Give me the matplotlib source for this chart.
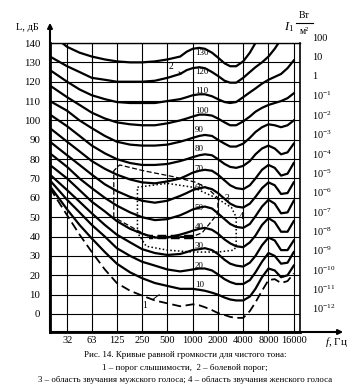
import matplotlib
matplotlib.use("Agg")
import matplotlib.pyplot as plt
from matplotlib.ticker import NullLocator

plt.rcParams['font.family'] = ['Liberation Serif', 'DejaVu Serif']
plt.rcParams['mathtext.fontset'] = 'custom'
plt.rcParams['mathtext.rm'] = 'Liberation Serif'
plt.rcParams['mathtext.it'] = 'Liberation Serif:italic'
plt.rcParams['mathtext.bf'] = 'Liberation Serif:bold'

# --- данные (частота, Гц / уровень, дБ) ---
freqs = [20, 32, 45, 63, 90, 125, 180, 250, 355, 500,
         710, 850, 1000, 1200, 1400, 1700, 2000, 2400, 2800, 3300,
         4000, 4800, 5600, 6700, 8000, 9500, 11300, 13500, 16000]

threshold = [65, 51, 41, 32, 23, 16, 12, 9.5, 7, 5.5,
             4, 4.5, 5, 4.5, 3.5, 2, 0.5, -0.5, -1.5, -2,
             -2, 1.5, 6, 12, 17.5, 18, 16, 17, 21]
phon_10 = [66, 54, 46, 39, 32, 26, 21.5, 18.5, 16, 14.5,
           13, 13, 13, 12.5, 12, 11, 10, 8.5, 7.5, 7,
           7, 9, 13, 19, 23.5, 22.5, 19, 20, 25]
phon_20 = [69, 59, 52.5, 46, 40, 34, 30, 27, 25, 23,
           22, 22.5, 23, 23.5, 23.5, 22.5, 20.5, 18, 16.5, 15.5,
           15.5, 17.5, 21.5, 27, 31.5, 30, 26, 26.5, 32]
phon_30 = [72, 64, 58, 52, 46, 41, 37, 33.5, 31.5, 30.5,
           31, 32, 33, 33.5, 34, 33, 31, 28, 26, 25,
           24.5, 26.5, 30, 35.5, 39.5, 38, 33, 33, 38]
phon_40 = [77, 70, 64, 58, 53, 48, 44, 41.5, 39.5, 39.5,
           41, 42, 43, 44, 44.5, 43.5, 41.5, 38.5, 36.5, 35,
           34.5, 37, 40.5, 46, 49.5, 47.5, 42.5, 42.5, 48]
phon_50 = [83, 76, 70, 65, 60, 56, 52.5, 50, 48.5, 49,
           51, 52.5, 54, 55, 55.5, 54.5, 52, 49, 46.5, 45,
           44.5, 46.5, 50.5, 55.5, 59, 57, 52, 52.5, 58.5]
phon_60 = [89, 82, 77, 72, 67, 63.5, 60.5, 58.5, 57.5, 58.5,
           61, 62.5, 64, 65, 65.5, 64.5, 62.5, 59.5, 57, 55.5,
           55, 57, 60.5, 65, 68, 66.5, 62, 62.5, 68]
phon_70 = [96, 89, 84, 79, 75, 72, 69.5, 68, 67.5, 68.5,
           70, 71.5, 73, 74, 74.5, 74, 72, 69, 66.5, 65,
           64.5, 66.5, 70, 74.5, 77, 75.5, 71.5, 72.5, 78]
phon_80 = [103, 97, 92, 87, 83, 80, 78, 77, 77, 77.5,
           79, 80, 81, 82, 82.5, 82, 80, 77.5, 76, 75.5,
           76.5, 79, 82.5, 85.5, 87, 85.5, 82.5, 83.5, 88]
phon_90 = [110, 105, 100, 96, 92, 89, 87.5, 87, 87, 87.5,
           89, 90, 91, 92, 92.5, 92, 90, 88, 86.5, 86.5,
           88, 91, 94, 96.5, 98, 97.5, 96.5, 97.5, 100]
phon_100 = [118, 112, 108, 104, 101, 99, 98, 97.5, 97.5, 98.5,
            100, 101, 102, 103, 103, 102.5, 101, 99, 97.5, 97.5,
            99.5, 102, 104.5, 106.5, 108, 109, 110, 111.5, 114]
phon_110 = [126, 120, 116, 113, 111, 109.5, 109, 109, 109, 110,
            111, 112, 113, 113.5, 113.5, 112.5, 111, 109.5, 109, 109.5,
            112, 114.5, 116.5, 119, 121, 122.5, 124, 127, 131]
phon_120 = [133, 128, 125, 122, 121, 120, 120, 120, 120.5, 122,
            124, 126, 127, 127.5, 127, 125, 123, 120.5, 119.5, 119.5,
            122, 125, 127.5, 130, 133, 137, 142, 147, 152]
phon_130 = [145, 138, 135, 133, 131.5, 130.5, 130, 130, 130.5, 131.5,
            133, 135.5, 137, 137.5, 137, 135, 132.5, 129.5, 128, 128,
            130.5, 135, 140, 146, 152, 157, 162, 166, 170]

levels = [10, 20, 30, 40, 50, 60, 70, 80, 90, 100, 110, 120, 130]
curves = [phon_10, phon_20, phon_30, phon_40, phon_50, phon_60, phon_70,
          phon_80, phon_90, phon_100, phon_110, phon_120, phon_130]

# область звучания мужского голоса (3)
male_f = [115, 115, 135, 260, 580, 1100, 1500, 2000, 2000, 1300, 1000]
male_db = [50, 74, 77, 74, 71, 68, 65, 60, 52, 42, 40]
male_low_f = [1000, 300, 115]
male_low_db = [40, 40, 50]
# область звучания женского голоса (4)
female_f = [220, 500, 1000, 1900, 2900, 3300, 3300, 3100, 2000, 1000, 500, 280, 220, 220]
female_db = [65.5, 67.5, 65.5, 60, 55, 50, 35, 33, 32, 32, 33, 35, 42, 65.5]

x_ticks = [32, 63, 125, 250, 500, 1000, 2000, 4000, 8000, 16000]
y_ticks = list(range(0, 141, 10))
intensity_labels = ['100', '10', '1'] + ['$10^{-%d}$' % k for k in range(1, 13)]

fig = plt.figure(figsize=(3.64, 3.86), dpi=100)
ax = fig.add_axes([50 / 364, 54 / 386, 250 / 364, 289 / 386])
ax.set_xscale('log')
ax.set_xlim(20, 19000)
ax.set_ylim(-9.3, 140)

ax.set_xticks(x_ticks)
ax.set_xticklabels([str(v) for v in x_ticks], fontsize=7.5)
ax.xaxis.set_minor_locator(NullLocator())
ax.set_yticks(y_ticks)
ax.set_yticklabels([str(v) for v in y_ticks], fontsize=7.8)
ax.tick_params(length=0, pad=3)
ax.tick_params(axis='y', pad=7)
ax.grid(True, color='black', lw=0.8)

for side in ['left', 'bottom']:
    ax.spines[side].set_linewidth(2)
ax.spines['right'].set_linewidth(1.2)
ax.spines['top'].set_linewidth(1.0)

# кривые равной громкости
for lev, vals in zip(levels, curves):
    ax.plot(freqs, vals, color='black', lw=1.6, solid_joinstyle='round')
    ax.text(1060, lev + 5, str(lev), fontsize=6.5, ha='left', va='center')

# порог слышимости
ax.plot(freqs, threshold, color='black', lw=1.3, ls=(0, (5, 2.5)))

# области голосов
ax.plot(male_f, male_db, color='black', lw=0.9, ls=(0, (4, 2)))
ax.plot(male_low_f, male_low_db, color='black', lw=0.9, ls=(0, (4, 2)))
ax.plot(male_low_f[:2], male_low_db[:2], color='black', lw=3.2, ls=(0, (2, 1)))
ax.plot(female_f, female_db, color='black', lw=1.1, ls=(0, (1, 1.5)))

ax.annotate('1', xy=(400, 10), xytext=(270, 4.5), fontsize=7, ha='center', va='center',
            arrowprops=dict(arrowstyle='-', lw=0.7, color='black', shrinkA=2, shrinkB=0))
ax.annotate('2', xy=(740, 124), xytext=(560, 128), fontsize=7, ha='center', va='center',
            arrowprops=dict(arrowstyle='-', lw=0.7, color='black', shrinkA=2, shrinkB=0))
ax.text(2560, 59.5, '3', fontsize=7, ha='center', va='center')
ax.text(3800, 50.5, '4', fontsize=7, ha='center', va='center')

# правая шкала интенсивности
for v, lab in zip(range(140, -1, -10), intensity_labels):
    ax.text(1.048, v + 2.5, lab, transform=ax.get_yaxis_transform(),
            fontsize=7.5, ha='left', va='center')

# стрелки осей
ax.annotate('', xy=(50, 366), xytext=(50, 52), xycoords='figure pixels',
            textcoords='figure pixels',
            arrowprops=dict(arrowstyle='-|>', lw=1.5, color='black', mutation_scale=7))
ax.annotate('', xy=(346, 54), xytext=(48, 54), xycoords='figure pixels',
            textcoords='figure pixels',
            arrowprops=dict(arrowstyle='-|>', lw=1.5, color='black', mutation_scale=7))

# подписи осей
fig.text(27 / 364, 1 - 28 / 386, 'L, дБ', fontsize=7.5, ha='center', va='center')
fig.text(336 / 364, 1 - 342 / 386, '$f$, Гц', fontsize=8, ha='center', va='center')
fig.text(289 / 364, 1 - 27 / 386, '$I_1$', fontsize=9, ha='center', va='center')
fig.text(304 / 364, 1 - 15 / 386, 'Вт', fontsize=7, ha='center', va='center')
fig.text(304 / 364, 1 - 32 / 386, 'м²', fontsize=7, ha='center', va='center')
fig.add_artist(plt.Line2D([296 / 364, 313 / 364], [1 - 23 / 386, 1 - 23 / 386],
                          color='black', lw=0.8))

# подпись рисунка
fig.text(185 / 364, 1 - 355 / 386, 'Рис. 14. Кривые равной громкости для чистого тона:',
         fontsize=6.5, ha='center', va='center')
fig.text(185 / 364, 1 - 368 / 386, '1 – порог слышимости,  2 – болевой порог;',
         fontsize=6.5, ha='center', va='center')
fig.text(185 / 364, 1 - 380 / 386,
         '3 – область звучания мужского голоса; 4 – область звучания женского голоса',
         fontsize=6.4, ha='center', va='center')

fig.savefig('out.png', dpi=100)
